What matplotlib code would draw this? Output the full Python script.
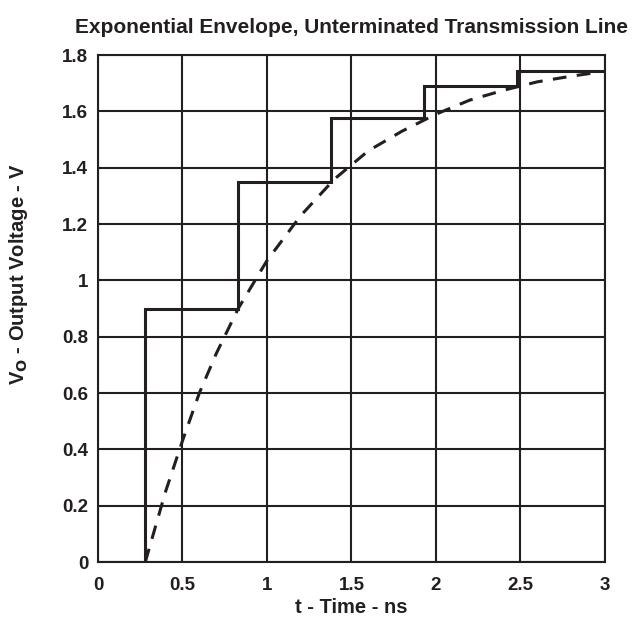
import matplotlib
matplotlib.use("Agg")
import matplotlib.pyplot as plt

plt.rcParams["font.family"] = ["Liberation Sans", "DejaVu Sans"]
plt.rcParams["font.weight"] = "bold"

# staircase response of the unterminated line (time in ns, volts)
step_t = [0.28, 0.83, 1.38, 1.93, 2.48, 3.0]
step_v = [0.9, 1.35, 1.575, 1.69, 1.745, 1.745]

# exponential envelope
env_t = [0.28, 0.4, 0.5, 0.6, 0.7, 0.83, 1.0, 1.2, 1.4, 1.6, 1.8, 2.0,
         2.2, 2.4, 2.6, 2.8, 2.95]
env_v = [0.0, 0.25, 0.43, 0.6, 0.74, 0.9, 1.07, 1.23, 1.36, 1.46, 1.53,
         1.59, 1.64, 1.675, 1.705, 1.725, 1.738]

x_ticks = [0, 0.5, 1, 1.5, 2, 2.5, 3]
x_labels = ["0", "0.5", "1", "1.5", "2", "2.5", "3"]
y_ticks = [0, 0.2, 0.4, 0.6, 0.8, 1.0, 1.2, 1.4, 1.6, 1.8]
y_labels = ["0", "0.2", "0.4", "0.6", "0.8", "1", "1.2", "1.4", "1.6", "1.8"]

ink = "#231f20"

fig = plt.figure(figsize=(6.32, 6.19), dpi=100)
ax = fig.add_axes([0.155, 0.092, 0.802, 0.819])

ax.set_xlim(0, 3)
ax.set_ylim(0, 1.8)
ax.set_xticks(x_ticks)
ax.set_xticklabels(x_labels)
ax.set_yticks(y_ticks)
ax.set_yticklabels(y_labels)
ax.tick_params(length=0, labelsize=13.5, colors=ink)
ax.yaxis.set_tick_params(pad=7)
ax.xaxis.set_tick_params(pad=11)
for lab in ax.get_xticklabels() + ax.get_yticklabels():
    lab.set_fontweight("bold")

ax.grid(True, color=ink, linewidth=1.5)
ax.set_axisbelow(True)
for sp in ax.spines.values():
    sp.set_color(ink)
    sp.set_linewidth(1.5)

# flat part before the first arrival
ax.plot([0, step_t[0]], [0, 0], color="#888888", linewidth=1.5,
        solid_capstyle="butt")
ax.step([step_t[0]] + step_t, [0] + step_v, where="post", color=ink,
        linewidth=2.2, solid_joinstyle="miter")
ax.plot(env_t, env_v, color=ink, linewidth=2.2, dashes=(4.5, 3.4))

ax.set_title("Exponential Envelope, Unterminated Transmission Line",
             fontsize=15, fontweight="bold", color=ink, pad=16)
ax.set_xlabel("t - Time - ns", fontsize=14.5, fontweight="bold", color=ink)
ax.set_ylabel(r"V$_\mathbf{O}$ - Output Voltage - V", fontsize=14.5,
              fontweight="bold", color=ink)
ax.xaxis.set_label_coords(0.5, -0.07)
ax.yaxis.set_label_coords(-0.135, 0.568)

fig.savefig("out.png", dpi=100)
